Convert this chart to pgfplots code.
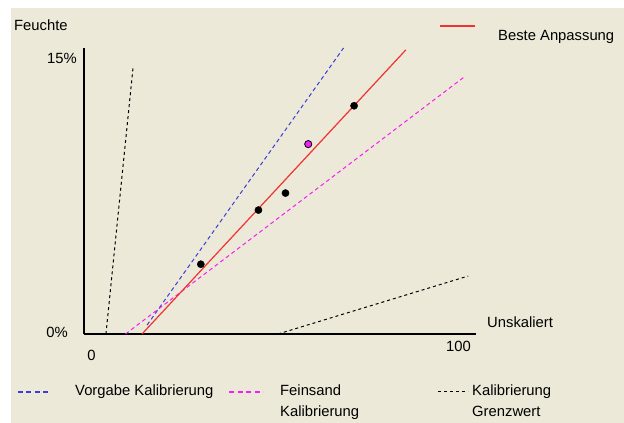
\documentclass[border=0pt]{standalone}
\usepackage{pgfplots}
\pgfplotsset{compat=1.18}
\usepackage{fontspec}
\setmainfont{Liberation Sans}
\definecolor{bg}{RGB}{236,233,216}
\definecolor{cblue}{RGB}{60,60,220}
\definecolor{cmag}{RGB}{245,30,245}
\definecolor{cred}{RGB}{240,50,50}
\begin{document}
\begin{tikzpicture}[x=1pt,y=1pt,font=\fontsize{14.8}{20}\selectfont]
\useasboundingbox (0,0) rectangle (624,423);
\fill[white] (0,0) rectangle (624,423);
\fill[bg] (11,0) rectangle (624,415);
\begin{axis}[
  scale only axis, width=392pt, height=286pt,
  at={(84pt,89pt)}, anchor=south west,
  xmin=0, xmax=100, ymin=0, ymax=15,
  axis x line=bottom, axis y line=left,
  axis line style={-, line width=1.5pt, black},
  xtick=\empty, ytick=\empty,
  clip=false,
]
% Kalibrierung Grenzwert (steep)
\addplot[black, line width=1pt, dash pattern=on 3pt off 3pt] coordinates {(5.6,0) (12.5,13.95)};
% Kalibrierung Grenzwert (flat)
\addplot[black, line width=1pt, dash pattern=on 3pt off 3pt] coordinates {(49.5,0) (98,3.04)};
% Vorgabe Kalibrierung
\addplot[cblue, line width=1pt, dash pattern=on 4pt off 3pt] coordinates {(16.1,0.47) (66.2,15)};
% Feinsand Kalibrierung
\addplot[cmag, line width=1pt, dash pattern=on 4pt off 3pt] coordinates {(10.6,0) (97.3,13.53)};
% Beste Anpassung
\addplot[cred, line width=1.2pt] coordinates {(14.8,0) (82.1,14.9)};
% measured points
\addplot[only marks, mark=*, mark size=3.6pt, black] coordinates {(29.8,3.66) (44.5,6.5) (51.4,7.39) (68.9,11.97)};
\addplot[only marks, mark=*, mark size=3.6pt, draw=black, fill=cmag, mark options={line width=0.8pt}] coordinates {(57.2,9.96)};
\end{axis}
\node[anchor=base west, inner sep=0] at (14,392.7) {Feuchte};
\node[anchor=base east, inner sep=0] at (77,359.2) {15\%};
\node[anchor=base east, inner sep=0] at (68,85.7) {0\%};
\node[anchor=base, inner sep=0] at (91.5,62.7) {0};
\node[anchor=base, inner sep=0] at (458.5,71.2) {100};
\node[anchor=base west, inner sep=0] at (487,95.7) {Unskaliert};
\draw[draw=cred, color=cred, line width=1.8pt] (440,397.3) -- (475,397.3);
\node[anchor=base west, inner sep=0] at (498,382.7) {Beste Anpassung};
\draw[draw=cblue, color=cblue, line width=1.8pt, dash pattern=on 5pt off 3.5pt] (17.7,31.3) -- (48.3,31.3);
\node[anchor=base west, inner sep=0] at (75,27.7) {Vorgabe Kalibrierung};
\draw[draw=cmag, color=cmag, line width=1.8pt, dash pattern=on 5pt off 3.5pt] (229,31.3) -- (263,31.3);
\node[anchor=base west, inner sep=0] at (280,27.7) {Feinsand};
\node[anchor=base west, inner sep=0] at (280,6.7) {Kalibrierung};
\draw[draw=black, line width=1pt, dash pattern=on 3pt off 3pt] (438,31.3) -- (468,31.3);
\node[anchor=base west, inner sep=0] at (472,27.7) {Kalibrierung};
\node[anchor=base west, inner sep=0] at (472,6.7) {Grenzwert};
\end{tikzpicture}
\end{document}
